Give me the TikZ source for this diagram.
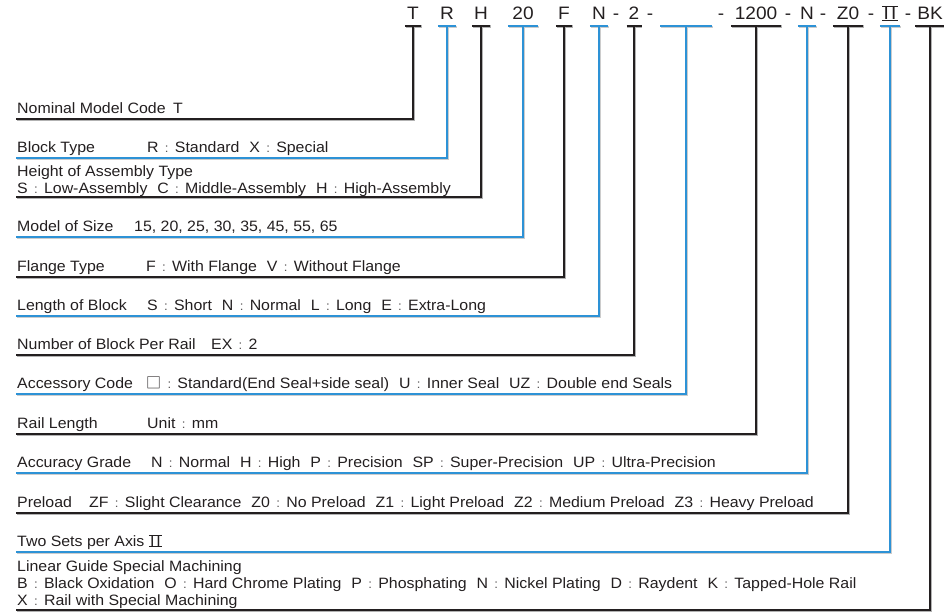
\documentclass[tikz,border=0pt]{standalone}
\usepackage{fontspec}
\setmainfont{Liberation Sans}[FakeStretch=1.06]
\newfontfamily\cjk{Noto Sans CJK TC}
\usetikzlibrary{positioning}

\definecolor{lineblack}{RGB}{35,31,32}
\definecolor{lineblue}{RGB}{45,146,214}
\newcommand{\fw}{\hspace{0.42em}{\color{lineblack!75}\fontsize{12.5}{14}\selectfont :}\hspace{0.42em}}
\newcommand{\gp}{\hspace{0.66em}}
\newcommand{\rtwo}{\leavevmode\lower0.06em\vbox{\hrule height 0.06em
  \hbox{\kern0.08em I\kern0.12emI\kern0.08em}\hrule height 0.06em}}

\tikzset{
  code/.style={inner xsep=2pt, inner ysep=0pt, text height=13pt, text depth=6pt,
    font=\fontsize{18}{20}\selectfont, text=lineblack},
  hyph/.style={code, inner xsep=0pt},
  lbl/.style={anchor=base west, inner sep=0pt, font=\fontsize{15}{18}\selectfont,
    text=lineblack, align=left},
  blk/.style={draw=lineblack, line width=2.4pt,
    preaction={draw=black!30, line width=2.4pt, transform canvas={xshift=0.8pt,yshift=-0.8pt}}},
  blu/.style={draw=lineblue, line width=2pt,
    preaction={draw=black!20, line width=2pt, transform canvas={xshift=0.8pt,yshift=-0.8pt}}},
}

\begin{document}
\begin{tikzpicture}[x=1pt, y=-1pt]
  \useasboundingbox (0,0) rectangle (944,614);

  % model code
  \node[code] (cT)   at (413,16) {T};
  \node[code] (cR)   at (447,16) {R};
  \node[code] (cH)   at (481,16) {H};
  \node[code, minimum width=30pt] (cSize) at (523,16) {20};
  \node[code] (cF)   at (564,16) {F};
  \node[code] (cLen) at (599,16) {N};
  \node[hyph] (d1)   at (616,16) {-};
  \node[code] (cNum) at (634,16) {2};
  \node[hyph] (d2)   at (650,16) {-};
  \node[code, minimum width=51pt] (cAcc) at (686,16) {\strut};
  \node[hyph] (d3)   at (721,16) {-};
  \node[code, minimum width=50pt] (cRail) at (756,16) {1200};
  \node[hyph] (d4)   at (788,16) {-};
  \node[code] (cGr)  at (807,16) {N};
  \node[hyph] (d5)   at (823,16) {-};
  \node[code, minimum width=30pt] (cPre) at (848,16) {Z0};
  \node[hyph] (d6)   at (871,16) {-};
  \node[code] (cTwo) at (890,16) {\rtwo};
  \node[hyph] (d7)   at (908,16) {-};
  \node[code, minimum width=26pt] (cBK) at (930,16) {BK};

  % labels
  \node[lbl] (lNom) at (17,113) {Nominal Model Code\enspace T};
  \node[lbl] (lBlk) at (17,152) {Block Type};
  \node[lbl] (vBlk) at (147,152) {R\fw Standard\gp X\fw Special};
  \node[lbl] (lHgt) at (17,176) {Height of Assembly Type};
  \node[lbl] (vHgt) at (17,193) {S\fw Low-Assembly\gp C\fw Middle-Assembly\gp H\fw High-Assembly};
  \node[lbl] (lSize) at (17,231) {Model of Size};
  \node[lbl] (vSize) at (134,231) {15, 20, 25, 30, 35, 45, 55, 65};
  \node[lbl] (lFlg) at (17,271) {Flange Type};
  \node[lbl] (vFlg) at (146,271) {F\fw With Flange\gp V\fw Without Flange};
  \node[lbl] (lLen) at (17,310) {Length of Block};
  \node[lbl] (vLen) at (147,310) {S\fw Short\gp N\fw Normal\gp L\fw Long\gp E\fw Extra-Long};
  \node[lbl] (lNum) at (17,349) {Number of Block Per Rail};
  \node[lbl] (vNum) at (211,349) {EX\fw 2};
  \node[lbl] (lAcc) at (17,388) {Accessory Code};
  \node[lbl] (vAcc) at (146,388) {{\cjk □}\fw Standard(End Seal+side seal)\gp U\fw Inner Seal\gp UZ\fw Double end Seals};
  \node[lbl] (lRail) at (17,428) {Rail Length};
  \node[lbl] (vRail) at (147,428) {Unit\fw mm};
  \node[lbl] (lGr) at (17,467) {Accuracy Grade};
  \node[lbl] (vGr) at (151,467) {N\fw Normal\gp H\fw High\gp P\fw Precision\gp SP\fw Super-Precision\gp UP\fw Ultra-Precision};
  \node[lbl] (lPre) at (17,507) {Preload};
  \node[lbl] (vPre) at (89,507) {ZF\fw Slight Clearance\gp Z0\fw No Preload\gp Z1\fw Light Preload\gp Z2\fw Medium Preload\gp Z3\fw Heavy Preload};
  \node[lbl] (lTwo) at (17,546) {Two Sets per Axis \rtwo};
  \node[lbl] (lSpc) at (17,571) {Linear Guide Special Machining};
  \node[lbl] (vSpc) at (17,588) {B\fw Black Oxidation\gp O\fw Hard Chrome Plating\gp P\fw Phosphating\gp N\fw Nickel Plating\gp D\fw Raydent\gp K\fw Tapped-Hole Rail};
  \node[lbl] (wSpc) at (17,605) {X\fw Rail with Special Machining};

  % line ends
  \coordinate (eNom)  at (16,119);
  \coordinate (eBlk)  at (16,158);
  \coordinate (eHgt)  at (16,197);
  \coordinate (eSize) at (16,237);
  \coordinate (eFlg)  at (16,277);
  \coordinate (eLen)  at (16,316);
  \coordinate (eNum)  at (16,355);
  \coordinate (eAcc)  at (16,394);
  \coordinate (eRail) at (16,434);
  \coordinate (eGr)   at (16,473);
  \coordinate (ePre)  at (16,513);
  \coordinate (eTwo)  at (16,552);
  \coordinate (eSpc)  at (16,610);

  % bars and leaders
  \foreach \c/\e/\s in {cT/eNom/blk, cR/eBlk/blu, cH/eHgt/blk, cSize/eSize/blu,
      cF/eFlg/blk, cLen/eLen/blu, cNum/eNum/blk, cAcc/eAcc/blu, cRail/eRail/blk,
      cGr/eGr/blu, cPre/ePre/blk, cTwo/eTwo/blu, cBK/eSpc/blk}
  {
    \draw[\s] (\c.south west) -- (\c.south east);
    \draw[\s] (\c.south) |- (\e);
  }
\end{tikzpicture}
\end{document}
